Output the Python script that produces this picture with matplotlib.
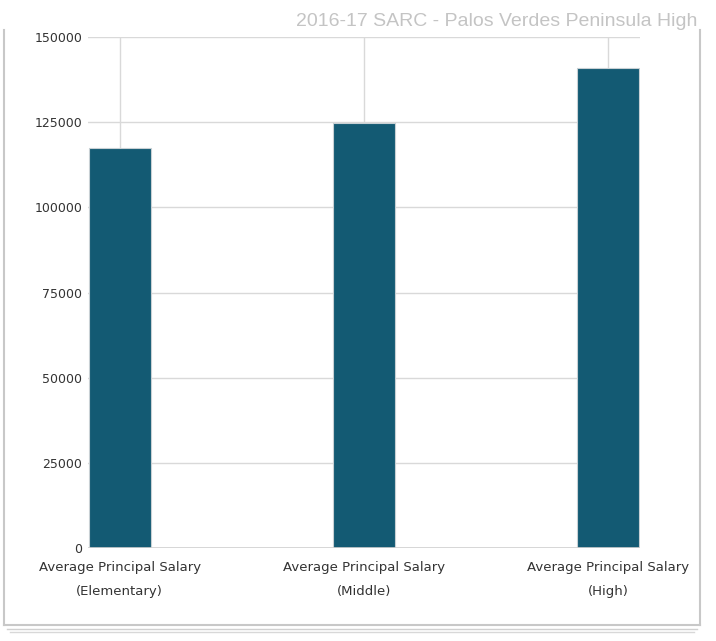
import numpy as np
import matplotlib.pyplot as plt
from matplotlib.lines import Line2D

# données
categories = ['Average Principal Salary\n(Elementary)',
              'Average Principal Salary\n(Middle)',
              'Average Principal Salary\n(High)']
salaires = [117400, 124700, 140900]
yticks = [0, 25000, 50000, 75000, 100000, 125000, 150000]
titre = '2016-17 SARC - Palos Verdes Peninsula High'

W, H = 716, 641
fig = plt.figure(figsize=(W / 100, H / 100), dpi=100)
ax = fig.add_axes([88 / W, 1 - 548 / H, (640 - 88) / W, (548 - 37) / H])

x = np.arange(len(categories))
ax.bar(x, salaires, width=0.254, color='#135a73', edgecolor='#c8d0d4',
       linewidth=0.8, zorder=3)

# grille verticale au centre des barres et horizontale
for xi in x:
    ax.axvline(xi, color='#d9d9d9', linewidth=1, zorder=1)
for yt in yticks[1:]:
    ax.axhline(yt, color='#d9d9d9', linewidth=1, zorder=1)
ax.axhline(0, color='#d0d0d0', linewidth=1.2, zorder=4)

ax.set_xlim(-0.13, 2.13)
ax.set_ylim(0, 150000)
ax.set_yticks(yticks)
ax.set_yticklabels([str(v) for v in yticks], fontsize=9, color='#333333')
ax.set_xticks(x)
ax.set_xticklabels(categories, fontsize=9.5, color='#333333', linespacing=2.15)
ax.tick_params(length=0, pad=4)
ax.tick_params(axis='x', pad=9)
for s in ax.spines.values():
    s.set_visible(False)

# cadre gris autour du graphique
def ligne(x0, y0, x1, y1, c='#c8c8c8', lw=1.5):
    fig.add_artist(Line2D([x0 / W, x1 / W], [1 - y0 / H, 1 - y1 / H],
                          color=c, linewidth=lw))

ligne(4, 30, 4, 625)
ligne(700, 30, 700, 625)
ligne(4, 625, 700, 625)
ligne(7, 629, 697, 629, c='#d0d0d0', lw=1)
ligne(10, 632, 694, 632, c='#d8d8d8', lw=1)

fig.text(697 / W, 1 - 21 / H, titre, ha='right', va='center', fontsize=14,
         color='#c4c4c4', family='Liberation Sans')

fig.savefig('out.png', dpi=100)
